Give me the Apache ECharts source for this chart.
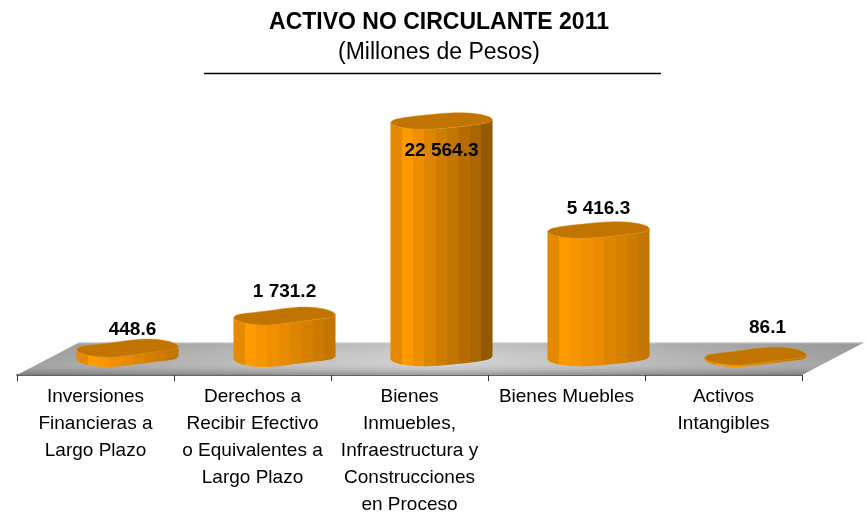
<!DOCTYPE html>
<html>
<head>
<meta charset="utf-8">
<title>Activo no circulante 2011</title>
<script src="https://cdn.jsdelivr.net/npm/echarts@6/dist/echarts.min.js"></script>
<style>
  html, body { margin: 0; padding: 0; background: #fff; }
  #chart { width: 867px; height: 513px; }
</style>
</head>
<body>
<div id="chart"></div>
<script>
const categories = [
  'Inversiones\nFinancieras a\nLargo Plazo',
  'Derechos a\nRecibir Efectivo\no Equivalentes a\nLargo Plazo',
  'Bienes\nInmuebles,\nInfraestructura y\nConstrucciones\nen Proceso',
  'Bienes Muebles',
  'Activos\nIntangibles'
]
// amounts printed over the columns
const valueLabels = ['448.6', '1 731.2', '22 564.3', '5 416.3', '86.1']
// column heights, the source axis is not linear in the amounts
const columnLevels = [10, 42, 237, 128, 2]

const FONT = '"Liberation Sans", Arial, sans-serif'
const facetsLight = ['#e58a00', '#ff9900', '#f89500', '#f09000', '#e88b00', '#de8500', '#d57f00', '#cc7b00', '#c47600']
const facetsDark = ['#e58a00', '#ff9900', '#ee8f00', '#dd8500', '#ce7c00', '#c27500', '#b66d00', '#a86500', '#945900']

function facetGradient(colors) {
  const colorStops = []
  colors.forEach((color, i) => {
    colorStops.push({ offset: i / colors.length, color })
    colorStops.push({ offset: (i + 1) / colors.length, color })
  })
  return { type: 'linear', x: 0, y: 0, x2: 1, y2: 0, colorStops }
}

// wobbly ellipse edge of a column, side = -1 back edge, 1 front edge
function edgePoints(cx, cy, rx, ry, side, lump) {
  const points = []
  for (let i = 0; i <= 40; i++) {
    const t = -1 + i / 20
    const half = ry * Math.sqrt(1 - t * t)
    const centre = -1.5 * t - lump * Math.sin(Math.PI * t)
    points.push([cx + rx * t, cy + centre + side * half])
  }
  return points
}

function renderFloor(params, api) {
  const band = api.size([1, 0])[0]
  const left = api.coord([0, 0])[0] - band / 2
  const right = api.coord([4, 0])[0] + band / 2
  const front = api.coord([0, 0])[1]
  const depthX = 63
  const depthY = 33
  const points = [[left, front], [right, front], [right + depthX, front - depthY], [left + depthX, front - depthY]]
  return {
    type: 'group',
    children: [
      {
        type: 'polygon',
        shape: { points },
        style: {
          fill: {
            type: 'linear', x: 0, y: 0, x2: 1, y2: 0,
            colorStops: [
              { offset: 0, color: '#9a9a9a' },
              { offset: 0.5, color: '#d2d2d2' },
              { offset: 1, color: '#9a9a9a' }
            ]
          }
        }
      },
      {
        type: 'polygon',
        shape: { points },
        style: {
          fill: {
            type: 'linear', x: 0, y: 0, x2: 0, y2: 1,
            colorStops: [
              { offset: 0, color: 'rgba(255,255,255,0.7)' },
              { offset: 0.1, color: 'rgba(120,120,120,0.12)' },
              { offset: 0.6, color: 'rgba(255,255,255,0.05)' },
              { offset: 1, color: 'rgba(70,70,70,0.4)' }
            ]
          }
        }
      }
    ]
  }
}

function renderColumn(params, api) {
  const index = api.value(0)
  const band = api.size([1, 0])[0]
  const rx = band * 0.325
  const ry = 7.5
  const lift = 17 // columns stand in the middle of the floor, not on the axis line
  const depthShift = 32
  const base = api.coord([index, 0])
  const top = api.coord([index, api.value(1)])
  const cx = base[0] + depthShift
  const baseY = base[1] - lift
  const topY = top[1] - lift
  const lump = index === 2 || index === 3 ? 0.8 : 1.6

  const frontBottom = edgePoints(cx, baseY, rx, ry, 1, lump)
  const frontTop = edgePoints(cx, topY, rx, ry, 1, lump)
  const backTop = edgePoints(cx, topY, rx, ry, -1, lump)
  const body = frontTop.concat(frontBottom.slice().reverse())
  const lid = backTop.concat(frontTop.slice().reverse())

  const labelX = index === 0 ? cx + 5 : index === 4 ? cx + 12 : cx
  const labelGap = [18, 24, -30, 21, 28][index]

  return {
    type: 'group',
    children: [
      {
        type: 'polygon',
        shape: { points: body },
        style: { fill: facetGradient(index === 2 ? facetsDark : facetsLight) }
      },
      {
        type: 'polygon',
        shape: { points: lid },
        style: { fill: '#c17500', stroke: '#d98a10', lineWidth: 0.5 }
      },
      {
        type: 'text',
        style: {
          text: valueLabels[index],
          x: labelX,
          y: topY - labelGap,
          align: 'center',
          verticalAlign: 'middle',
          font: 'bold 19px ' + FONT,
          fill: '#000'
        }
      }
    ]
  }
}

const chart = echarts.init(document.getElementById('chart'))

chart.setOption({
  animation: false,
  title: {
    text: 'ACTIVO NO CIRCULANTE 2011',
    subtext: '(Millones de Pesos)',
    left: 434,
    top: 6,
    textAlign: 'center',
    itemGap: 7,
    textStyle: { fontFamily: FONT, fontSize: 23, fontWeight: 'bold', color: '#000' },
    subtextStyle: { fontFamily: FONT, fontSize: 23, color: '#000' }
  },
  graphic: [
    {
      type: 'line',
      shape: { x1: 204, y1: 73.5, x2: 661, y2: 73.5 },
      style: { stroke: '#000', lineWidth: 1.5 }
    }
  ],
  grid: { left: 17, width: 785, top: 100, height: 275, outerBoundsMode: 'none' },
  xAxis: {
    type: 'category',
    data: categories,
    axisLine: { lineStyle: { color: '#333', width: 1.5 } },
    axisTick: { show: true, length: 6, alignWithLabel: false, lineStyle: { color: '#333' } },
    axisLabel: {
      interval: 0,
      margin: 8,
      fontFamily: FONT,
      fontSize: 19,
      lineHeight: 27,
      color: '#000',
      verticalAlign: 'top'
    }
  },
  yAxis: { type: 'value', min: 0, max: 275, show: false },
  series: [
    {
      type: 'custom',
      silent: true,
      z: 1,
      renderItem: renderFloor,
      data: [0]
    },
    {
      type: 'custom',
      silent: true,
      z: 2,
      renderItem: renderColumn,
      encode: { x: 0, y: 1 },
      data: columnLevels.map((level, i) => [i, level])
    }
  ]
})
</script>
</body>
</html>
